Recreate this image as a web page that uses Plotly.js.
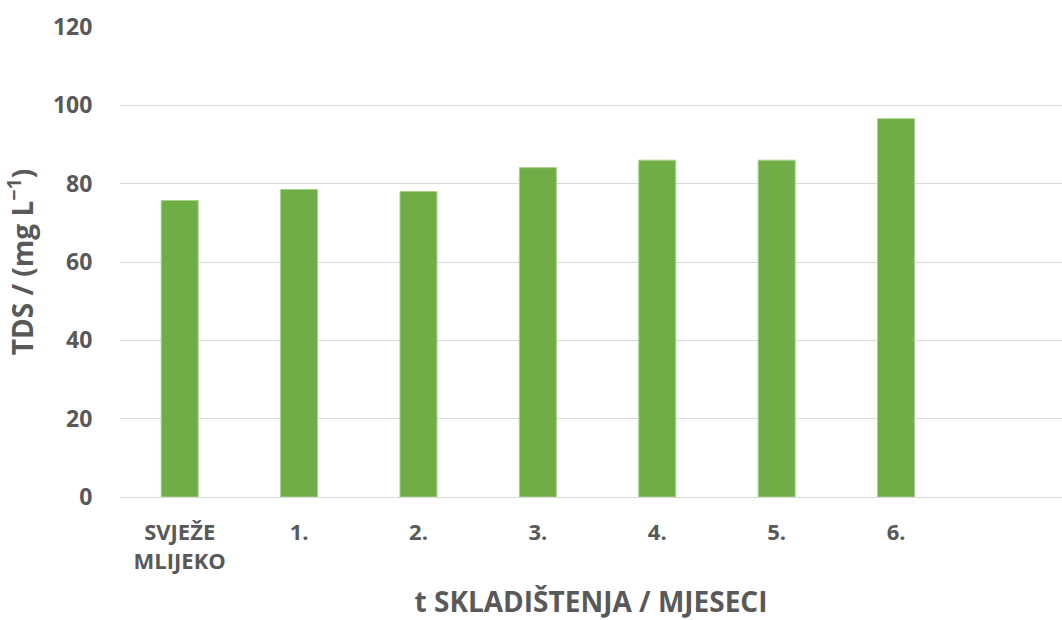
<!DOCTYPE html>
<html>
<head>
<meta charset="utf-8">
<script src="https://cdn.plot.ly/plotly-3.0.1.min.js"></script>
<style>html,body{margin:0;padding:0;background:#fff;}#chart{width:1062px;height:620px;}</style>
</head>
<body>
<div id="chart"></div>
<script>
const categories = ["SVJEŽE<br>MLIJEKO", "1.", "2.", "3.", "4.", "5.", "6."];
const tdsValues = [75.7, 78.5, 78.0, 84.1, 86.0, 86.0, 96.6];
const yTickValues = [0, 20, 40, 60, 80, 100, 120];

const FONT = '"Open Sans", "DejaVu Sans", sans-serif';
const GREY = '#595959';

const trace = {
  type: 'bar',
  x: categories,
  y: tdsValues,
  width: 0.31,
  marker: { color: '#70AD47', line: { color: '#A9D18E', width: 1 } },
  hoverinfo: 'skip'
};

const layout = {
  width: 1062, height: 620,
  margin: { l: 120, r: 0, t: 27, b: 123 },
  paper_bgcolor: '#fff', plot_bgcolor: '#fff',
  showlegend: false,
  bargap: 0,
  font: { family: FONT, color: GREY },
  xaxis: {
    type: 'category',
    categoryorder: 'array', categoryarray: categories,
    range: [-0.5, 7.39],
    showgrid: false, zeroline: false, showline: false,
    ticks: 'outside', ticklen: 16, tickcolor: 'rgba(0,0,0,0)',
    tickfont: { family: FONT, size: 22, color: GREY, weight: 'bold' },
    title: { text: 't SKLADIŠTENJA / MJESECI', font: { family: FONT, size: 28, color: GREY, weight: 'bold' }, standoff: 20 },
    automargin: false,
    fixedrange: true
  },
  yaxis: {
    range: [0, 120],
    tickvals: yTickValues,
    showgrid: true, gridcolor: '#D9D9D9', gridwidth: 1,
    zeroline: true, zerolinecolor: '#D9D9D9', zerolinewidth: 1,
    showline: false,
    ticks: 'outside', ticklen: 22, tickcolor: 'rgba(0,0,0,0)',
    tickfont: { family: FONT, size: 23, color: GREY, weight: 'bold' },
    title: { text: 'TDS / (mg L<sup>−1</sup>)', font: { family: FONT, size: 28, color: GREY, weight: 'bold' }, standoff: 12 },
    automargin: false,
    fixedrange: true
  }
};

Plotly.newPlot('chart', [trace], layout, { displayModeBar: false, staticPlot: true });
</script>
</body>
</html>
